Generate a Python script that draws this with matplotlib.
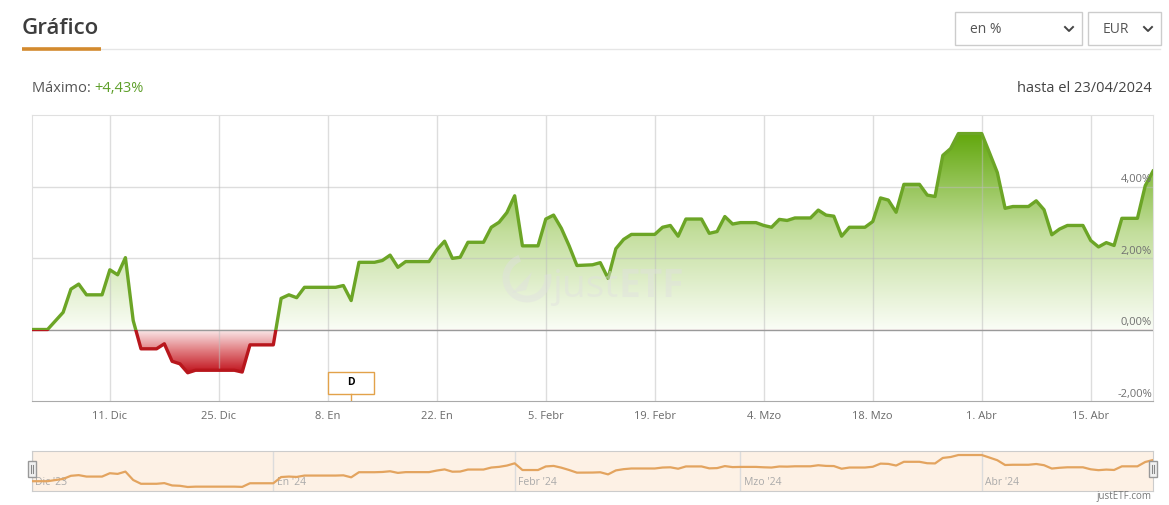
import numpy as np
import pandas as pd
import matplotlib
matplotlib.use("Agg")
import matplotlib.pyplot as plt
import matplotlib.dates as mdates
import matplotlib.transforms as mtransforms
from matplotlib.path import Path
from matplotlib.colors import LinearSegmentedColormap
from matplotlib.patches import Rectangle, Arc, Polygon

plt.rcParams['font.family'] = ['Open Sans', 'DejaVu Sans']

# --- data (performance in %) ---
dates = [
    "2023-12-01", "2023-12-03", "2023-12-05", "2023-12-06", "2023-12-07", "2023-12-08",
    "2023-12-10", "2023-12-11", "2023-12-12", "2023-12-13", "2023-12-14", "2023-12-15",
    "2023-12-17", "2023-12-18", "2023-12-19", "2023-12-20", "2023-12-21", "2023-12-22",
    "2023-12-27", "2023-12-28", "2023-12-29", "2024-01-01", "2024-01-02", "2024-01-03",
    "2024-01-04", "2024-01-05", "2024-01-09", "2024-01-10", "2024-01-11", "2024-01-12",
    "2024-01-14", "2024-01-15", "2024-01-16", "2024-01-17", "2024-01-18", "2024-01-21",
    "2024-01-22", "2024-01-23", "2024-01-24", "2024-01-25", "2024-01-26", "2024-01-28",
    "2024-01-29", "2024-01-30", "2024-01-31", "2024-02-01", "2024-02-02", "2024-02-04",
    "2024-02-05", "2024-02-06", "2024-02-07", "2024-02-08", "2024-02-09", "2024-02-11",
    "2024-02-12", "2024-02-13", "2024-02-14", "2024-02-15", "2024-02-16", "2024-02-19",
    "2024-02-20", "2024-02-21", "2024-02-22", "2024-02-23", "2024-02-25", "2024-02-26",
    "2024-02-27", "2024-02-28", "2024-02-29", "2024-03-01", "2024-03-03", "2024-03-04",
    "2024-03-05", "2024-03-06", "2024-03-07", "2024-03-08", "2024-03-10", "2024-03-11",
    "2024-03-12", "2024-03-13", "2024-03-14", "2024-03-15", "2024-03-17", "2024-03-18",
    "2024-03-19", "2024-03-20", "2024-03-21", "2024-03-22", "2024-03-24", "2024-03-25",
    "2024-03-26", "2024-03-27", "2024-03-28", "2024-03-29", "2024-04-01", "2024-04-02",
    "2024-04-03", "2024-04-04", "2024-04-05", "2024-04-07", "2024-04-08", "2024-04-09",
    "2024-04-10", "2024-04-11", "2024-04-12", "2024-04-14", "2024-04-15", "2024-04-16",
    "2024-04-17", "2024-04-18", "2024-04-19", "2024-04-21", "2024-04-22", "2024-04-23",
]
values = [
    0.00, 0.00, 0.48, 1.13, 1.27, 0.97,
    0.97, 1.67, 1.53, 2.01, 0.25, -0.54,
    -0.54, -0.40, -0.89, -0.96, -1.21, -1.14,
    -1.14, -1.19, -0.43, -0.43, 0.87, 0.97,
    0.89, 1.18, 1.18, 1.23, 0.81, 1.88,
    1.88, 1.93, 2.08, 1.74, 1.90, 1.90,
    2.23, 2.47, 1.99, 2.02, 2.44, 2.44,
    2.86, 3.00, 3.27, 3.74, 2.34, 2.34,
    3.09, 3.20, 2.83, 2.34, 1.79, 1.81,
    1.87, 1.43, 2.26, 2.52, 2.66, 2.66,
    2.86, 2.91, 2.61, 3.09, 3.09, 2.69,
    2.74, 3.16, 2.95, 2.99, 2.99, 2.91,
    2.86, 3.08, 3.05, 3.12, 3.12, 3.34,
    3.20, 3.17, 2.61, 2.86, 2.86, 3.02,
    3.68, 3.62, 3.28, 4.06, 4.06, 3.76,
    3.72, 4.87, 5.06, 5.48, 5.48, 4.94,
    4.39, 3.39, 3.44, 3.44, 3.60, 3.35,
    2.65, 2.81, 2.91, 2.91, 2.49, 2.31,
    2.43, 2.35, 3.11, 3.11, 4.02, 4.43,
]
tick_dates = ["2023-12-11", "2023-12-25", "2024-01-08", "2024-01-22", "2024-02-05",
              "2024-02-19", "2024-03-04", "2024-03-18", "2024-04-01", "2024-04-15"]
tick_labels = ["11. Dic", "25. Dic", "8. En", "22. En", "5. Febr",
               "19. Febr", "4. Mzo", "18. Mzo", "1. Abr", "15. Abr"]
y_ticks = [-2, 0, 2, 4]
y_labels = ["-2,00%", "0,00%", "2,00%", "4,00%"]
nav_months = ["2023-12-01", "2024-01-01", "2024-02-01", "2024-03-01", "2024-04-01"]
nav_labels = ["Dic '23", "En '24", "Febr '24", "Mzo '24", "Abr '24"]
flag_date = "2024-01-11"
flag_text = "D"
max_label = "Máximo: "
max_value = "+4,43%"
until_text = "hasta el 23/04/2024"
start_date, end_date = "2023-12-01", "2024-04-23"

GREEN = '#6ca526'
RED = '#b8161c'

W, H = 1169, 505
fig = plt.figure(figsize=(W / 100, H / 100), dpi=100, facecolor='white')


def px_axes(x0, y0, x1, y1, **kw):
    return fig.add_axes([x0 / W, 1 - y1 / H, (x1 - x0) / W, (y1 - y0) / H], **kw)


# header drawn in pixel coordinates
bg = fig.add_axes([0, 0, 1, 1])
bg.set_xlim(0, W)
bg.set_ylim(H, 0)
bg.axis('off')
bg.text(22, 28, "Gráfico", fontsize=16, fontweight='semibold', color='#3d3d3d', va='center')
bg.plot([101, 1160], [49, 49], color='#e6e6e6', lw=1)
bg.plot([22, 101], [49, 49], color='#d38a2e', lw=2.6, solid_capstyle='butt')

for (bx, bw, label) in [(955, 127, "en %"), (1088, 73, "EUR")]:
    bg.add_patch(Rectangle((bx, 12), bw, 33, fc='white', ec='#cccccc', lw=1))
    bg.text(bx + 15, 29.5, label, fontsize=10, color='#555555', va='center')
    cx = bx + bw - 13
    bg.plot([cx - 4, cx, cx + 4], [27, 31, 27], color='#444444', lw=1.4)

t1 = bg.text(32, 89, max_label, fontsize=10.5, color='#555555', va='center')
bg.annotate(max_value, xy=(1, 0.5), xycoords=t1, fontsize=10.5, color='#5e9f2a', va='center')
bg.text(1152, 89, until_text, fontsize=10.5, color='#444444', va='center', ha='right')

# --- main chart ---
ax = px_axes(32, 115, 1153, 401)
x = mdates.date2num(pd.to_datetime(dates))
v = np.array(values)
xmin = mdates.date2num(pd.Timestamp(start_date))
xmax = mdates.date2num(pd.Timestamp(end_date))
ax.set_xlim(xmin, xmax)
ax.set_ylim(-2, 6)

area = ax.fill_between(x, v, 0, color='none', lw=0)
clip = Path.make_compound_path(*area.get_paths())

grad = np.linspace(0, 1, 256).reshape(-1, 1)
gcmap = LinearSegmentedColormap.from_list('g', ['#fafdf6', '#c3de9c', '#63a80e'])
rcmap = LinearSegmentedColormap.from_list('r', ['#fbeced', '#e07a7e', '#c0101a'])
im_g = ax.imshow(grad, extent=[xmin, xmax, 0, v.max()], origin='lower',
                 cmap=gcmap, aspect='auto', zorder=1)
im_g.set_clip_path(clip, ax.transData)
im_r = ax.imshow(grad[::-1], extent=[xmin, xmax, v.min(), 0], origin='lower',
                 cmap=rcmap, aspect='auto', zorder=1)
im_r.set_clip_path(clip, ax.transData)

ax.set_xticks(mdates.date2num(pd.to_datetime(tick_dates)))
ax.set_xticklabels(tick_labels)
ax.set_yticks([])
ax.tick_params(axis='x', length=0, pad=7, labelsize=8, labelcolor='#6a6a6a')
for tx in ax.get_xticks():
    ax.axvline(tx, color='#bdbdbd', alpha=0.5, lw=1, zorder=2)
for yv in [2, 4]:
    ax.axhline(yv, color='#bdbdbd', alpha=0.5, lw=1, zorder=2)
ax.axhline(0, color='#9a9a9a', lw=1, zorder=3)

ytrans = mtransforms.blended_transform_factory(ax.transAxes, ax.transData)
for yv, lab in zip(y_ticks, y_labels):
    ax.text(0.999, yv + 0.03, lab, transform=ytrans, ha='right', va='bottom',
            fontsize=8, color='#707070', zorder=6)

for s in ['top', 'left', 'right']:
    ax.spines[s].set_color('#e0e0e0')
ax.spines['bottom'].set_color('#aaaaaa')

ln_g, = ax.plot(x, v, color=GREEN, lw=2.4, zorder=4, solid_joinstyle='round')
ln_g.set_clip_path(Rectangle((xmin, 0), xmax - xmin, 10, transform=ax.transData))
ln_r, = ax.plot(x, v, color=RED, lw=2.4, zorder=4, solid_joinstyle='round')
ln_r.set_clip_path(Rectangle((xmin, -10), xmax - xmin, 10, transform=ax.transData))

# dividend flag
ftrans = mtransforms.blended_transform_factory(ax.transData, ax.transAxes)
fx = mdates.date2num(pd.Timestamp(flag_date))
fw = 46 / 1121 * (xmax - xmin)
ax.add_patch(Rectangle((fx - fw / 2, 0.0245), fw, 0.077, transform=ftrans,
                       fc='white', ec='#e2a24a', lw=1, zorder=7))
ax.plot([fx, fx], [0, 0.0245], transform=ftrans, color='#e2a24a', lw=1, zorder=7)
ax.text(fx, 0.0245 + 0.0385, flag_text, transform=ftrans, ha='center', va='center',
        fontsize=7.5, fontweight='bold', color='black', zorder=8)

# --- navigator ---
nav = px_axes(32, 451, 1153, 491)
nav.set_facecolor('#fdf1e5')
nav.set_xlim(xmin, xmax)
nav.set_ylim(-2.05, 6.32)
nav.set_xticks([])
nav.set_yticks([])
for s in nav.spines.values():
    s.set_color('#cccccc')
ntrans = mtransforms.blended_transform_factory(nav.transData, nav.transAxes)
for md, lab in zip(nav_months, nav_labels):
    mx = mdates.date2num(pd.Timestamp(md))
    nav.axvline(mx, color='#dcdcdc', lw=1, zorder=1)
    nav.annotate(lab, xy=(mx, 0.0), xycoords=ntrans, xytext=(2.5, 2),
                 textcoords='offset points', fontsize=7.5, color='#aaaaaa',
                 ha='left', va='bottom', zorder=2)
nav.plot(x, v, color='#e3a45f', lw=1.6, zorder=3)

# --- overlay: watermark, handles, credit ---
top = fig.add_axes([0, 0, 1, 1], zorder=10)
top.set_xlim(0, W)
top.set_ylim(H, 0)
top.axis('off')
wm = (0.88, 0.88, 0.88)
top.add_patch(Arc((527, 278), 42, 42, theta1=-10, theta2=250, color=wm, lw=5, alpha=0.45))
top.add_patch(Polygon([[512, 293], [532, 272], [526, 290]], closed=True, fc=wm, ec='none', alpha=0.45))
t_just = top.text(552, 297, "just", fontsize=28, color=wm, alpha=0.45, va='baseline')
top.annotate("ETF", xy=(1, 0), xycoords=t_just, fontsize=28, fontweight='bold',
             color=wm, alpha=0.45, va='bottom')

for hx in [28, 1149]:
    top.add_patch(Rectangle((hx, 461), 8, 16, fc='#f2f2f2', ec='#999999', lw=1))
    top.plot([hx + 3, hx + 3], [465, 473], color='#888888', lw=0.8)
    top.plot([hx + 5, hx + 5], [465, 473], color='#888888', lw=0.8)

top.text(1152, 497, "justETF.com", fontsize=7, color='#777777', ha='right', va='center')

fig.savefig("out.png", dpi=100, facecolor='white')
